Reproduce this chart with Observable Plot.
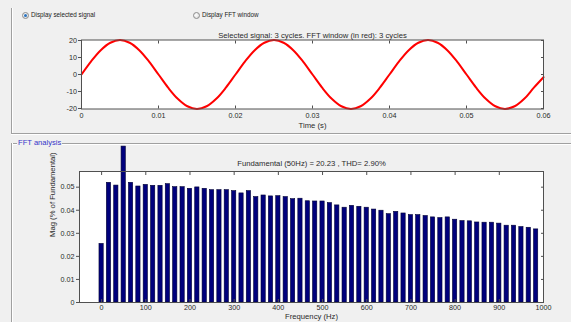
<!DOCTYPE html>
<html><head><meta charset="utf-8">
<script src="https://cdn.jsdelivr.net/npm/d3@7"></script>
<script src="https://cdn.jsdelivr.net/npm/@observablehq/plot@0.6"></script>
<style>
html,body{margin:0;padding:0;background:#f0f0f0;}
#wrap{position:relative;width:571px;height:322px;overflow:hidden;background:#f0f0f0;font-family:"Liberation Sans",Arial,Helvetica,sans-serif;}
.hline{position:absolute;height:0;border-top:1px solid #a0a0a0;box-shadow:0 1px 0 #ffffff;}
.vline{position:absolute;width:0;border-left:1px solid #a0a0a0;box-shadow:1px 0 0 #ffffff;}
.radio{position:absolute;width:7px;height:7px;border-radius:50%;border:1px solid #8c8c8c;background:radial-gradient(circle at 40% 40%,#ffffff,#d4d4d4);box-sizing:border-box;}
.radio.on::after{content:"";position:absolute;left:1px;top:1px;width:3px;height:3px;border-radius:50%;background:#2a74c0;}
.lbl{position:absolute;font-size:6.3px;color:#222;white-space:nowrap;line-height:1;}
.panelTitle{position:absolute;font-size:7.6px;color:#3535c8;white-space:nowrap;line-height:1;background:#f0f0f0;padding:0 1px;}
.plotbox{position:absolute;left:0;}
</style></head>
<body>
<div id="wrap">
  <div class="vline" style="left:11px;top:8px;height:125px;"></div>
  <div class="hline" style="left:11px;top:133px;width:560px;"></div>
  <div class="radio on" style="left:21.5px;top:11.5px;"></div>
  <div class="lbl" style="left:31px;top:12px;">Display selected signal</div>
  <div class="radio" style="left:192.5px;top:11.5px;"></div>
  <div class="lbl" style="left:202px;top:12px;">Display FFT window</div>
  <div class="hline" style="left:11px;top:143px;width:560px;"></div>
  <div class="vline" style="left:11px;top:143px;height:179px;"></div>
  <div class="panelTitle" style="left:17px;top:139px;">FFT analysis</div>
  <div class="plotbox" id="topPlot" style="top:0px;"></div>
  <div class="plotbox" id="botPlot" style="top:130px;"></div>
</div>
<script>
// ---- Signal (time domain) ----
const timeSec = [0,0.00125,0.0025,0.00375,0.005,0.00625,0.0075,0.00875,0.01,0.01125,0.0125,0.01375,0.015,0.01625,0.0175,0.01875,
  0.02,0.02125,0.0225,0.02375,0.025,0.02625,0.0275,0.02875,0.03,0.03125,0.0325,0.03375,0.035,0.03625,0.0375,0.03875,
  0.04,0.04125,0.0425,0.04375,0.045,0.04625,0.0475,0.04875,0.05,0.05125,0.0525,0.05375,0.055,0.05625,0.0575,0.05875,0.06];
const signalValues = [0,7.74,14.3,18.69,20.23,18.69,14.3,7.74,0,-7.74,-14.3,-18.69,-20.23,-18.69,-14.3,-7.74,
  0,7.74,14.3,18.69,20.23,18.69,14.3,7.74,0,-7.74,-14.3,-18.69,-20.23,-18.69,-14.3,-7.74,
  0,7.74,14.3,18.69,20.23,18.69,14.3,7.74,0,-7.74,-14.3,-18.69,-20.23,-18.69,-14.3,-7.74,-1.6];
const timeTicks = [0,0.01,0.02,0.03,0.04,0.05,0.06];
const ampTicks = [-20,-10,0,10,20];

// ---- FFT spectrum ----
const freqHz = [0,16.67,33.33,50,66.67,83.33,100,116.67,133.33,150,166.67,183.33,200,216.67,233.33,250,266.67,283.33,300,316.67,
  333.33,350,366.67,383.33,400,416.67,433.33,450,466.67,483.33,500,516.67,533.33,550,566.67,583.33,600,616.67,633.33,650,
  666.67,683.33,700,716.67,733.33,750,766.67,783.33,800,816.67,833.33,850,866.67,883.33,900,916.67,933.33,950,966.67,983.33];
const magPct = [0.0254,0.0519,0.0507,0.0676,0.0519,0.0503,0.0510,0.0506,0.0506,0.0513,0.0500,0.0500,0.0493,0.0499,0.0493,0.0487,0.0487,0.0487,0.0483,0.0473,
  0.0483,0.0457,0.0464,0.0460,0.0461,0.0457,0.0448,0.0450,0.0439,0.0438,0.0438,0.0431,0.0421,0.0411,0.0419,0.0415,0.0411,0.0403,0.0398,0.0383,
  0.0393,0.0386,0.0379,0.0379,0.0375,0.0369,0.0366,0.0369,0.0359,0.0353,0.0352,0.0347,0.0346,0.0346,0.0342,0.0333,0.0333,0.0327,0.0324,0.0317];
const freqTicks = [0,100,200,300,400,500,600,700,800,900,1000];
const magTicks = [0,0.01,0.02,0.03,0.04,0.05];

const topTitle = "Selected signal: 3 cycles. FFT window (in red): 3 cycles";
const topXLabel = "Time (s)";
const botTitle = "Fundamental (50Hz) = 20.23 , THD= 2.90%";
const botXLabel = "Frequency (Hz)";
const botYLabel = "Mag (% of Fundamental)";

const signal = timeSec.map((t, i) => ({t, v: signalValues[i]}));
const bars = freqHz.map((f, i) => ({f, m: magPct[i]}));

const font = '"Liberation Sans", Arial, Helvetica, sans-serif';
const axisColor = "#505050";
const textColor = "#2a2a2a";
const fmt = d => String(d);

const topSvg = Plot.plot({
  width: 571, height: 135,
  marginLeft: 81, marginRight: 28, marginTop: 39.5, marginBottom: 26.5,
  style: {background: "transparent", fontFamily: font, fontSize: "7.2px", color: textColor, overflow: "visible"},
  x: {domain: [0, 0.06]},
  y: {domain: [-20.3, 20.3]},
  marks: [
    Plot.frame({fill: "white"}),
    Plot.line(signal, {x: "t", y: "v", stroke: "#ff0000", strokeWidth: 2, curve: "catmull-rom"}),
    Plot.frame({stroke: axisColor}),
    Plot.axisX({anchor: "bottom", ticks: timeTicks, tickFormat: fmt, tickSize: -3, tickPadding: 6.8, label: null, stroke: axisColor}),
    Plot.axisX({anchor: "top", ticks: timeTicks, tickFormat: () => "", tickSize: -3, label: null, stroke: axisColor}),
    Plot.axisY({anchor: "left", ticks: ampTicks, tickFormat: fmt, tickSize: 3, tickPadding: 1.5, label: null, stroke: axisColor}),
    Plot.axisY({anchor: "right", ticks: ampTicks, tickFormat: () => "", tickSize: -3, label: null, stroke: axisColor}),
    Plot.text([topTitle], {text: d => d, frameAnchor: "top", dy: -4.6, lineAnchor: "middle", fontSize: 7.7, fill: textColor}),
    Plot.text([topXLabel], {text: d => d, frameAnchor: "bottom", dy: 17, lineAnchor: "middle", fontSize: 7.7, fill: textColor})
  ]
});
document.getElementById("topPlot").appendChild(topSvg);

const botSvg = Plot.plot({
  width: 571, height: 192,
  marginLeft: 79, marginRight: 28, marginTop: 41, marginBottom: 20,
  style: {background: "transparent", fontFamily: font, fontSize: "7.2px", color: textColor, overflow: "visible"},
  x: {domain: [-50, 1000]},
  y: {domain: [0, 0.0568]},
  marks: [
    Plot.frame({fill: "white"}),
    Plot.rectY(bars, {x1: d => d.f - 4.8, x2: d => d.f + 4.8, y: "m", fill: "#00007c", stroke: "#000033", strokeWidth: 0.6}),
    Plot.frame({stroke: axisColor}),
    Plot.axisX({anchor: "bottom", ticks: freqTicks, tickFormat: fmt, tickSize: -3, tickPadding: 5.6, label: null, stroke: axisColor}),
    Plot.axisX({anchor: "top", ticks: freqTicks, tickFormat: () => "", tickSize: -3, label: null, stroke: axisColor}),
    Plot.axisY({anchor: "left", ticks: magTicks, tickFormat: fmt, tickSize: 3, tickPadding: 2, label: null, stroke: axisColor}),
    Plot.axisY({anchor: "right", ticks: magTicks, tickFormat: () => "", tickSize: -3, label: null, stroke: axisColor}),
    Plot.text([botTitle], {text: d => d, frameAnchor: "top", dy: -7.7, lineAnchor: "middle", fontSize: 7.7, fill: textColor}),
    Plot.text([botXLabel], {text: d => d, frameAnchor: "bottom", dy: 13.7, lineAnchor: "middle", fontSize: 7.7, fill: textColor}),
    Plot.text([botYLabel], {text: d => d, frameAnchor: "left", dx: -27.3, rotate: -90, lineAnchor: "middle", fontSize: 7.7, fill: textColor})
  ]
});
document.getElementById("botPlot").appendChild(botSvg);
</script>
</body></html>
